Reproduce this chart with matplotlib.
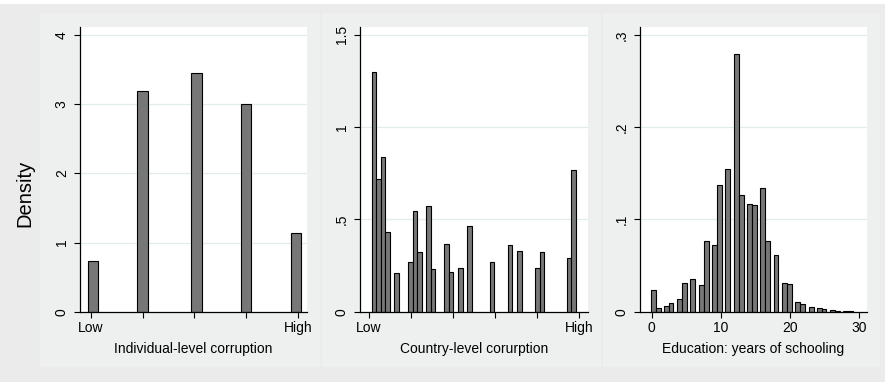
import matplotlib
matplotlib.use('Agg')
import matplotlib.pyplot as plt
from matplotlib.patches import Rectangle

plt.rcParams['font.family'] = ['Liberation Sans', 'DejaVu Sans']

# ---------------- data ----------------
# Panel 1: individual-level corruption (bin centres on a 0..4 scale, Low..High)
ind_x = [0.04, 1.0, 2.04, 3.0, 3.96]
ind_density = [0.736, 3.19, 3.447, 3.0, 1.145]
ind_ticks = [0, 1, 2, 3, 4]
ind_ticklabels = ['Low', '', '', '', 'High']
ind_yticks = [0, 1, 2, 3, 4]
ind_yticklabels = ['0', '1', '2', '3', '4']

# Panel 2: country-level corruption (bin centres on a 0..5 scale, Low..High)
cty_x = [0.118, 0.226, 0.334, 0.442, 0.658, 0.982, 1.09, 1.198, 1.414, 1.522,
         1.846, 1.954, 2.17, 2.386, 2.926, 3.358, 3.574, 4.006, 4.114, 4.762, 4.87]
cty_density = [1.30, 0.72, 0.837, 0.434, 0.211, 0.268, 0.546, 0.322, 0.573, 0.233,
               0.365, 0.214, 0.236, 0.466, 0.271, 0.36, 0.327, 0.237, 0.322, 0.29, 0.767]
cty_ticks = [0, 1, 2, 3, 4, 5]
cty_ticklabels = ['Low', '', '', '', '', 'High']
cty_yticks = [0, 0.5, 1, 1.5]
cty_yticklabels = ['0', '.5', '1', '1.5']

# Panel 3: education, years of schooling
edu_x = [0.24, 0.96, 2.12, 2.80, 4.0, 4.7, 5.94, 7.17, 7.9, 9.08, 9.78, 11.0, 12.27,
         12.99, 14.17, 14.88, 16.08, 16.8, 18.0, 19.25, 19.95, 21.13, 21.83, 23.1,
         24.3, 24.97, 26.2, 26.9, 28.1, 28.8]
edu_density = [0.0231, 0.0036, 0.0058, 0.0098, 0.0141, 0.0307, 0.0351, 0.0293, 0.0763,
               0.0719, 0.137, 0.1547, 0.2795, 0.1265, 0.1164, 0.1157, 0.1338, 0.0766,
               0.0615, 0.0311, 0.030, 0.0105, 0.008, 0.0047, 0.0036, 0.0033, 0.0015,
               0.0008, 0.0003, 0.0003]
edu_ticks = [0, 10, 20, 30]
edu_ticklabels = ['0', '10', '20', '30']
edu_yticks = [0, 0.1, 0.2, 0.3]
edu_yticklabels = ['0', '.1', '.2', '.3']

xlabels = ['Individual-level corruption', 'Country-level corurption',
           'Education: years of schooling']

# ---------------- figure ----------------
W, H = 885, 382
fig = plt.figure(figsize=(W / 100, H / 100), dpi=100)
fig.patch.set_facecolor('#ebebeb')

def px_rect(x0, y0, x1, y1, color):
    fig.patches.append(Rectangle((x0 / W, 1 - y1 / H), (x1 - x0) / W, (y1 - y0) / H,
                                 transform=fig.transFigure, facecolor=color,
                                 edgecolor='none', zorder=-10))

px_rect(0, 0, W, 4, '#ffffff')
for (a, b) in [(40, 320), (322, 601), (603, 880)]:
    px_rect(a, 13, b, 367, '#eef0f0')

bar_color = '#777777'
grid_color = '#e2ecec'

panels = [
    dict(x=ind_x, y=ind_density, w=0.2, xt=ind_ticks, xtl=ind_ticklabels,
         yt=ind_yticks, ytl=ind_yticklabels, xlim=(-0.206, 4.17), ylim=(0, 4.116),
         px=(80, 307)),
    dict(x=cty_x, y=cty_density, w=0.108, xt=cty_ticks, xtl=cty_ticklabels,
         yt=cty_yticks, ytl=cty_yticklabels, xlim=(-0.215, 5.21), ylim=(0, 1.543),
         px=(360, 588)),
    dict(x=edu_x, y=edu_density, w=0.7, xt=edu_ticks, xtl=edu_ticklabels,
         yt=edu_yticks, ytl=edu_yticklabels, xlim=(-1.7, 31.2), ylim=(0, 0.3087),
         px=(640, 867)),
]

top_px, bot_px = 27, 311.7
for i, p in enumerate(panels):
    x0, x1 = p['px']
    ax = fig.add_axes([x0 / W, 1 - bot_px / H, (x1 - x0) / W, (bot_px - top_px) / H])
    ax.set_facecolor('white')
    for yv in p['yt'][1:]:
        ax.axhline(yv, color=grid_color, lw=0.9, zorder=0)
    ax.bar(p['x'], p['y'], width=p['w'], color=bar_color, edgecolor='black',
           linewidth=0.8, zorder=2)
    ax.set_xlim(*p['xlim'])
    ax.set_ylim(*p['ylim'])
    ax.set_xticks(p['xt'])
    ax.set_xticklabels(p['xtl'], fontsize=10)
    ax.set_yticks(p['yt'])
    ax.set_yticklabels(p['ytl'], fontsize=10, rotation=90, va='center')
    ax.tick_params(axis='both', length=4, width=0.8, color='black', pad=4)
    ax.tick_params(axis='x', pad=3)
    for s in ['top', 'right']:
        ax.spines[s].set_visible(False)
    for s in ['left', 'bottom']:
        ax.spines[s].set_linewidth(0.9)
        ax.spines[s].set_color('black')
    ax.set_xlabel(xlabels[i], fontsize=10, labelpad=5)

fig.text(25 / W, 1 - 193 / H, 'Density', rotation=90, fontsize=14.5,
         ha='center', va='center')

fig.savefig('out.png', dpi=100, facecolor=fig.get_facecolor())
